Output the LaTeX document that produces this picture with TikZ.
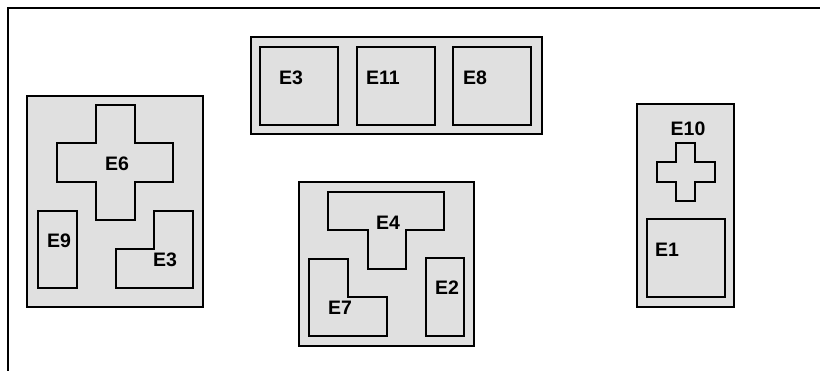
\documentclass[tikz,border=0pt]{standalone}
\usepackage{fontspec}
\setmainfont{Liberation Sans}
\begin{document}
\begin{tikzpicture}[x=1pt,y=-1pt,
  grp/.style={draw=black,line width=1.6pt,fill=black!12},
  part/.style={draw=black,line width=2.4pt,fill=black!12,line join=miter},
  lbl/.style={font=\fontsize{19.5}{19.5}\selectfont\bfseries,inner sep=0pt,anchor=center},
  frame/.style={draw=black,line width=1.9pt}]
\useasboundingbox (0,0) rectangle (820,371);
\draw[frame] (8,400) -- (8,8) -- (840,8);
% left group
\draw[grp] (27,96) rectangle (203,307);
\draw[part] (96,105) -- (135,105) -- (135,143) -- (173,143) -- (173,182) -- (135,182) -- (135,220) -- (96,220) -- (96,182) -- (57,182) -- (57,143) -- (96,143) -- cycle;
\draw[part] (38,211) rectangle (77,288);
\draw[part] (154,211) -- (193,211) -- (193,288) -- (116,288) -- (116,249) -- (154,249) -- cycle;
\node[lbl] (e6) at (117,164) {E6};
\node[lbl] (e9) at (59,241) {E9};
\node[lbl] (e3a) at (165,260) {E3};
% top group
\draw[grp] (251,37) rectangle (542,134);
\draw[part] (260,47) rectangle (338,125);
\draw[part] (357,47) rectangle (435,125);
\draw[part] (453,47) rectangle (531,125);
\node[lbl] (e3b) at (291,78) {E3};
\node[lbl] (e11) at (383,78) {E11};
\node[lbl] (e8) at (475,78) {E8};
% middle group
\draw[grp] (299,182) rectangle (474,346);
\draw[part] (328,192) -- (444,192) -- (444,230) -- (406,230) -- (406,269) -- (368,269) -- (368,230) -- (328,230) -- cycle;
\draw[part] (309,259) -- (348,259) -- (348,297) -- (387,297) -- (387,336) -- (309,336) -- cycle;
\draw[part] (426,258) rectangle (464,336);
\node[lbl] (e4) at (388,223) {E4};
\node[lbl] (e7) at (340,308) {E7};
\node[lbl] (e2) at (447,288) {E2};
% right group
\draw[grp] (637,104) rectangle (734,307);
\draw[part] (676,143) -- (695,143) -- (695,162) -- (715,162) -- (715,182) -- (695,182) -- (695,201) -- (676,201) -- (676,182) -- (657,182) -- (657,162) -- (676,162) -- cycle;
\draw[part] (647,219) rectangle (725,297);
\node[lbl] (e10) at (688,129) {E10};
\node[lbl] (e1) at (667,250) {E1};
\end{tikzpicture}
\end{document}
